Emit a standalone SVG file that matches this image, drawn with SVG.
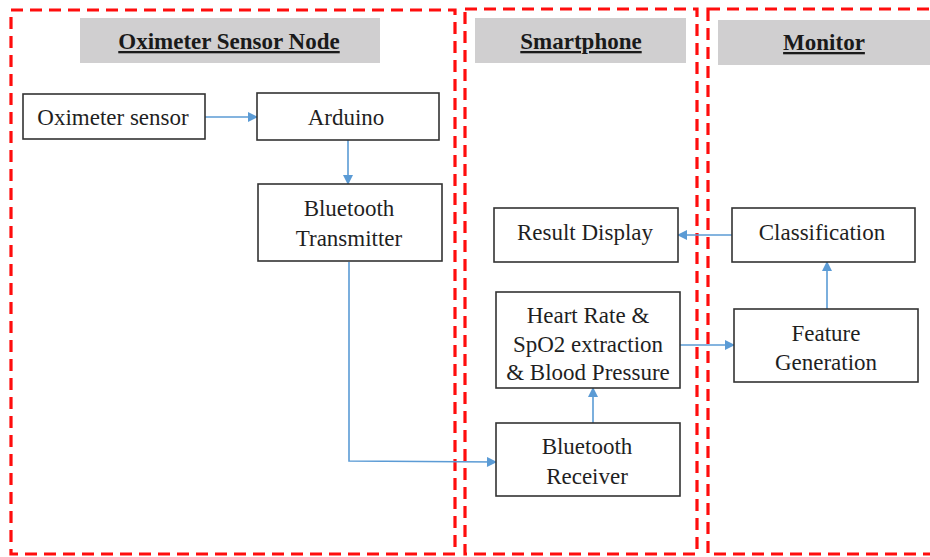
<svg xmlns="http://www.w3.org/2000/svg" width="930" height="557" viewBox="0 0 930 557">
  <style>
    .zone { fill: none; stroke: #ff0d0d; stroke-width: 3.2; stroke-dasharray: 12 7; }
    .hdr { fill: #d0cfd0; }
    .hdr-text { font-family: 'Liberation Serif', 'DejaVu Serif', serif; font-size: 23px; font-weight: bold; fill: #1a1a1a; text-anchor: middle; text-decoration: underline; }
    .box { fill: #ffffff; stroke: #333333; stroke-width: 1.6; }
    .label { font-family: 'Liberation Serif', 'DejaVu Serif', serif; font-size: 23px; fill: #1f1f1f; text-anchor: middle; }
    .wire { fill: none; stroke: #5b9bd5; stroke-width: 1.6; }
  </style>
  <defs>
    <marker id="arrow" viewBox="0 0 10 10" refX="9" refY="5" markerWidth="12" markerHeight="10" markerUnits="userSpaceOnUse" orient="auto">
      <path d="M0,0 L10,5 L0,10 z" fill="#5b9bd5"/>
    </marker>
  </defs>

  <rect width="930" height="557" fill="#ffffff"/>

  <!-- zones -->
  <g id="zone-sensor-node">
    <rect class="zone" x="11" y="10" width="444" height="544"/>
    <rect class="hdr" x="80" y="18" width="300" height="45"/>
    <text class="hdr-text" x="229" y="49">Oximeter Sensor Node</text>
  </g>
  <g id="zone-smartphone">
    <rect class="zone" x="465" y="9" width="232" height="545"/>
    <rect class="hdr" x="475" y="18" width="211" height="45"/>
    <text class="hdr-text" x="581" y="49">Smartphone</text>
  </g>
  <g id="zone-monitor">
    <rect class="zone" x="708" y="9" width="240" height="545"/>
    <rect class="hdr" x="718" y="20" width="212" height="45"/>
    <text class="hdr-text" x="824" y="50">Monitor</text>
  </g>

  <!-- connectors -->
  <g id="connectors">
    <line class="wire" x1="205" y1="117" x2="257" y2="117" marker-end="url(#arrow)"/>
    <line class="wire" x1="348" y1="140" x2="348" y2="184" marker-end="url(#arrow)"/>
    <polyline class="wire" points="349,262 349,461 496,462" marker-end="url(#arrow)"/>
    <line class="wire" x1="593" y1="423" x2="593" y2="388" marker-end="url(#arrow)"/>
    <line class="wire" x1="680" y1="345" x2="734" y2="345" marker-end="url(#arrow)"/>
    <line class="wire" x1="827" y1="309" x2="827" y2="262" marker-end="url(#arrow)"/>
    <line class="wire" x1="732" y1="235" x2="678" y2="235" marker-end="url(#arrow)"/>
  </g>

  <!-- nodes -->
  <g id="oximeter-sensor">
    <rect class="box" x="23" y="94" width="182" height="45"/>
    <text class="label" x="113" y="125">Oximeter sensor</text>
  </g>
  <g id="arduino">
    <rect class="box" x="257" y="93" width="182" height="47"/>
    <text class="label" x="346" y="125">Arduino</text>
  </g>
  <g id="bluetooth-transmitter">
    <rect class="box" x="258" y="184" width="184" height="77"/>
    <text class="label" x="349" y="216">Bluetooth</text>
    <text class="label" x="349" y="246">Transmitter</text>
  </g>
  <g id="result-display">
    <rect class="box" x="494" y="208" width="184" height="54"/>
    <text class="label" x="585" y="240">Result Display</text>
  </g>
  <g id="classification">
    <rect class="box" x="732" y="208" width="183" height="54"/>
    <text class="label" x="822" y="240">Classification</text>
  </g>
  <g id="heart-rate-extraction">
    <rect class="box" x="496" y="292" width="184" height="96"/>
    <text class="label" x="588" y="323">Heart Rate &amp;</text>
    <text class="label" x="588" y="352">SpO2 extraction</text>
    <text class="label" x="588" y="380">&amp; Blood Pressure</text>
  </g>
  <g id="feature-generation">
    <rect class="box" x="734" y="309" width="184" height="73"/>
    <text class="label" x="826" y="341">Feature</text>
    <text class="label" x="826" y="370">Generation</text>
  </g>
  <g id="bluetooth-receiver">
    <rect class="box" x="496" y="423" width="184" height="73"/>
    <text class="label" x="587" y="454">Bluetooth</text>
    <text class="label" x="587" y="484">Receiver</text>
  </g>
</svg>
